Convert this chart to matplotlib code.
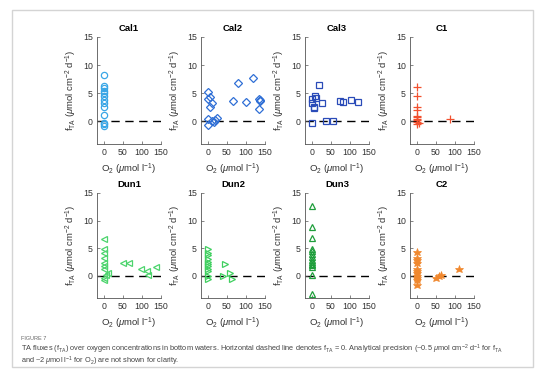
import matplotlib
matplotlib.use("Agg")
import matplotlib.pyplot as plt
from matplotlib.patches import Rectangle

plt.rcParams["font.family"] = ["Liberation Sans", "DejaVu Sans"]
plt.rcParams["mathtext.fontset"] = "custom"
plt.rcParams["mathtext.rm"] = "Liberation Sans"
plt.rcParams["mathtext.it"] = "Liberation Sans:italic"

# site data: O2 (umol/l) and f_TA (umol cm-2 d-1)
cal1_o2 = [0, 0, 0, 0, 0, 0, 0, 0, 0, 0, 0, 0, 0]
cal1_fta = [8.2, 6.3, 6.0, 5.5, 5.0, 4.5, 3.8, 3.2, 2.6, 1.2, -0.2, -0.5, -0.8]

cal2_o2 = [0, 0, 5, 5, 10, 0, 0, 10, 15, 20, 25, 66, 80, 99, 119, 135, 137, 135, 138]
cal2_fta = [5.3, 4.0, 4.3, 2.6, 3.2, 0.5, -0.7, 0.0, -0.1, 0.3, 0.7, 3.7, 6.8, 3.4, 7.7, 4.0, 3.6, 2.3, 3.8]

cal3_o2 = [0, 0, 5, 5, 9, 11, 19, 27, 0, 38, 56, 73, 82, 103, 122]
cal3_fta = [4.0, 3.2, 2.5, 2.4, 4.6, 4.2, 6.4, 3.2, -0.2, 0.0, 0.1, 3.7, 3.5, 3.9, 3.4]

c1_o2 = [0, 0, 0, 0, 0, 0, 0, 0, 0, 0, 5, 87]
c1_fta = [6.1, 4.6, 2.5, 2.1, 1.0, 0.8, 0.5, 0.2, -0.1, -0.4, -0.3, 0.4]

dun1_o2 = [0, 0, 0, 0, 0, 0, 0, 0, 0, 6, 10, 50, 66, 98, 112, 115, 137]
dun1_fta = [6.6, 4.9, 4.2, 3.3, 2.4, 1.8, 1.3, -0.3, -0.7, 0.1, 0.5, 2.3, 2.3, 1.3, 0.8, 0.1, 1.7]

dun2_o2 = [0, 0, 0, 0, 0, 0, 0, 0, 0, 0, 0, 44, 41, 59, 64]
dun2_fta = [4.8, 4.2, 3.7, 3.1, 2.5, 2.1, 1.8, 1.3, 0.9, 0.0, -0.6, 2.2, -0.1, 0.5, -0.6]

dun3_o2 = [0, 0, 0, 0, 0, 0, 0, 0, 0, 0, 0, 0, 0, 0]
dun3_fta = [12.7, 8.8, 6.9, 4.9, 4.5, 4.0, 3.5, 2.9, 2.5, 2.2, 1.9, 1.6, 0.2, -3.3]

c2_o2 = [0, 0, 0, 0, 0, 0, 0, 0, 0, 0, 0, 49, 59, 63, 110]
c2_fta = [4.3, 3.2, 2.8, 2.4, 1.3, 0.9, 0.5, 0.0, -0.3, -0.8, -1.6, -0.4, 0.0, 0.1, 1.2]

sites = [
    ("Cal1", cal1_o2, cal1_fta, "o", "#3aa6e6", False),
    ("Cal2", cal2_o2, cal2_fta, "D", "#2f6fd6", False),
    ("Cal3", cal3_o2, cal3_fta, "s", "#2a4bb8", False),
    ("C1", c1_o2, c1_fta, "+", "#f2502e", False),
    ("Dun1", dun1_o2, dun1_fta, "<", "#4cd46c", False),
    ("Dun2", dun2_o2, dun2_fta, ">", "#3fcf5f", False),
    ("Dun3", dun3_o2, dun3_fta, "^", "#1f9e3c", False),
    ("C2", c2_o2, c2_fta, "*", "#f0882e", True),
]

W, H = 554, 382
fig = plt.figure(figsize=(W / 100, H / 100), dpi=100)

# light frame around the figure panel
fig.patches.append(Rectangle((12 / W, 1 - 367 / H), 521 / W, 357 / H, transform=fig.transFigure,
                             fill=False, edgecolor="#d4d4d4", linewidth=1.0))

col_left = [97, 201, 305, 410]
rows = [(37, 144), (193, 298)]

for i, (name, xs, ys, marker, color, filled) in enumerate(sites):
    r, c = divmod(i, 4)
    top, bot = rows[r]
    ax = fig.add_axes([col_left[c] / W, 1 - bot / H, 64 / W, (bot - top) / H])
    ax.axhline(0, color="black", linestyle=(0, (6, 4)), linewidth=1.0, zorder=1)
    if filled:
        ax.plot(xs, ys, linestyle="none", marker=marker, markersize=6.2, color=color,
                markeredgewidth=0.5, zorder=2)
    else:
        ms = 6 if marker == "+" else 4.5
        ax.plot(xs, ys, linestyle="none", marker=marker, markersize=ms, markerfacecolor="none",
                markeredgecolor=color, markeredgewidth=0.9, zorder=2)
    ax.set_xlim(-18, 150)
    ax.set_ylim(-4, 15)
    ax.set_xticks([0, 50, 100, 150])
    ax.set_yticks([0, 5, 10, 15])
    for side in ("top", "right"):
        ax.spines[side].set_visible(False)
    for side in ("left", "bottom"):
        ax.spines[side].set_color("#555555")
        ax.spines[side].set_linewidth(0.6)
    ax.tick_params(direction="in", length=2, width=0.5, labelsize=6.3, colors="#555555",
                   labelcolor="#333333", pad=3)
    ax.set_title(name, fontsize=6.8, fontweight="bold", pad=4)
    ax.set_xlabel(r"O$_2$ ($\mathit{\mu}$mol l$^{-1}$)", fontsize=6.8, color="#333333", labelpad=3)
    ax.set_ylabel(r"f$_{\rm TA}$ ($\mathit{\mu}$mol cm$^{-2}$ d$^{-1}$)", fontsize=6.8,
                  color="#333333", labelpad=3)

fig.text(21 / W, 1 - 339 / H, "FIGURE 7", fontsize=4.0, color="#666666", va="center")
caption = (
    r"TA fluxes (f$_{\rm TA}$) over oxygen concentrations in bottom waters. Horizontal dashed line "
    r"denotes f$_{\rm TA}$ = 0. Analytical precision (~0.5 $\mu$mol cm$^{-2}$ d$^{-1}$ for f$_{\rm TA}$"
    "\n"
    r"and ~2 $\mu$mol l$^{-1}$ for O$_2$) are not shown for clarity."
)
fig.text(21 / W, 1 - 342.5 / H, caption, fontsize=5.3, color="#444444", va="top", linespacing=0.9)

fig.savefig("out.png", dpi=100)
